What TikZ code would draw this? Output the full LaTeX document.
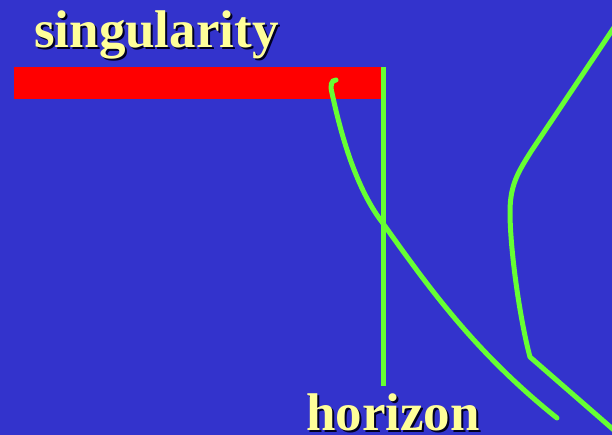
\documentclass[tikz,border=0pt]{standalone}
\usepackage{fontspec}
\setmainfont{Liberation Serif}
\definecolor{bgblue}{HTML}{3333CC}
\definecolor{barred}{HTML}{FF0000}
\definecolor{lgreen}{HTML}{66FF33}
\definecolor{lyellow}{HTML}{FFFF99}
\definecolor{shadowc}{HTML}{000022}
\newcommand{\shadowtext}[1]{\makebox[0pt][l]{\hspace{2pt}\raisebox{-2pt}{\color{shadowc}#1}}#1}
\begin{document}
\begin{tikzpicture}[x=1pt,y=-1pt,
  lbl/.style={font=\fontsize{53}{53}\selectfont\bfseries, text=lyellow, inner sep=0pt, anchor=base west},
  wline/.style={draw=lgreen, line width=5pt}]
\fill[bgblue] (0,0) rectangle (612,435);
\useasboundingbox (0,0) rectangle (612,435);
% singularity bar
\fill[barred] (14,67) rectangle (383,99);
% horizon line
\coordinate (htop) at (383,67);
\coordinate (hbot) at (383,386);
\draw[wline] (htop) -- (hbot);
% infalling worldline
\coordinate (a0) at (336,80);
\coordinate (a1) at (382,222);
\coordinate (a2) at (557,418);
\draw[wline, line cap=round] (a0) .. controls (331,80) and (330,86) .. (332,93)
  .. controls (341,135) and (356,188) .. (a1)
  .. controls (425,282) and (472,350) .. (a2);
% outer worldline
\coordinate (b0) at (615,26);
\coordinate (b1) at (532,150);
\coordinate (b2) at (510,212);
\coordinate (b3) at (530,357);
\coordinate (b4) at (615,431);
\draw[wline, line join=round] (b0) -- (b1) .. controls (518,172) and (510,185) .. (b2)
  .. controls (510,250) and (520,320) .. (b3) -- (b4);
% labels
\node[lbl] (singtxt) at (34,48) {\shadowtext{singularity}};
\node[lbl] (hortxt) at (306,430) {\shadowtext{horizon}};
\end{tikzpicture}
\end{document}
